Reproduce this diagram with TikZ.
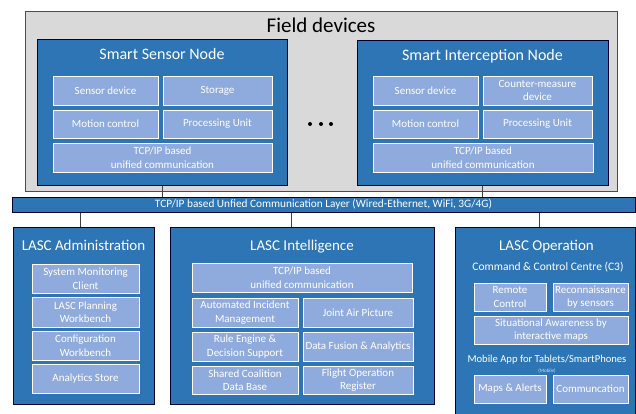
\documentclass[tikz,border=0pt]{standalone}
\usepackage{fontspec}
\setmainfont{Carlito}

\definecolor{fieldgray}{HTML}{D9D9D9}
\definecolor{nodeblue}{HTML}{2E75B6}
\definecolor{partblue}{HTML}{8FAADC}
\definecolor{wiregray}{HTML}{404040}

\tikzset{
  fieldbox/.style={draw=black!70, fill=fieldgray, line width=1pt, inner sep=0pt},
  bigbox/.style={draw=black!80!blue, fill=nodeblue, line width=1pt, inner sep=0pt},
  partbox/.style={draw=white, fill=partblue, line width=0.9pt, inner sep=0pt,
    text=white, align=center, font=\fontsize{11}{13.5}\selectfont},
  boxtitle/.style={text=white, font=\fontsize{16}{18}\selectfont},
  lasctitle/.style={text=white, font=\fontsize{15}{17}\selectfont},
  subtitle/.style={text=white, font=\fontsize{11.5}{13}\selectfont},
  wire/.style={draw=wiregray, line width=1pt},
}

\begin{document}
\begin{tikzpicture}[x=1pt,y=-1pt]
        \clip (0,0) rectangle (636,413);

        % field devices
        \node[fieldbox, minimum width=592, minimum height=180] (field) at (321,101) {};
        \node[font=\fontsize{21}{24}\selectfont] (fieldtitle) at (321,25) {Field devices};

        \node[bigbox, minimum width=250, minimum height=146] (ssn) at (162,112) {};
        \node[boxtitle] (ssntitle) at (162,54) {Smart Sensor Node};
        \node[partbox, minimum width=105, minimum height=29] (ssnsensor) at (105.5,90.5) {Sensor device};
        \node[partbox, minimum width=109, minimum height=29] (ssnstore) at (217.5,90.5) {Storage};
        \node[partbox, minimum width=105, minimum height=28] (ssnmotion) at (105.5,124) {Motion control};
        \node[partbox, minimum width=109, minimum height=28] (ssncpu) at (217.5,124) {Processing Unit};
        \node[partbox, minimum width=219, minimum height=29] (ssncomm) at (162.5,157.5) {TCP/IP based\\unified communication};

        \fill (310,124) circle[radius=2pt];
        \fill (321,124) circle[radius=2pt];
        \fill (331,124) circle[radius=2pt];

        \node[bigbox, minimum width=251, minimum height=145] (sin) at (482.5,112.5) {};
        \node[boxtitle] (sintitle) at (482.5,56) {Smart Interception Node};
        \node[partbox, minimum width=105, minimum height=29] (sinsensor) at (425.5,90.5) {Sensor device};
        \node[partbox, minimum width=109, minimum height=29] (sincounter) at (537.5,90.5) {Counter-measure\\device};
        \node[partbox, minimum width=105, minimum height=28] (sinmotion) at (425.5,124) {Motion control};
        \node[partbox, minimum width=109, minimum height=28] (sincpu) at (537.5,124) {Processing Unit};
        \node[partbox, minimum width=220, minimum height=29] (sincomm) at (483,157.5) {TCP/IP based\\unified communication};

        % communication layer
        \node[bigbox, minimum width=623, minimum height=15, text=white,
              font=\fontsize{11.3}{12}\selectfont] (layer) at (323.5,204.5)
              {TCP/IP based Unfied Communication Layer (Wired-Ethernet, WiFi, 3G/4G)};

        % administration
        \node[bigbox, minimum width=141, minimum height=177] (adm) at (83.5,315.5) {};
        \node[lasctitle] (admtitle) at (83.5,245) {LASC Administration};
        \node[partbox, minimum width=107, minimum height=29] (admmon) at (85.5,278.5) {System Monitoring\\Client};
        \node[partbox, minimum width=107, minimum height=30] (admplan) at (85.5,312) {LASC Planning\\Workbench};
        \node[partbox, minimum width=107, minimum height=29] (admconf) at (85.5,345.5) {Configuration\\Workbench};
        \node[partbox, minimum width=107, minimum height=29] (admstore) at (85.5,378.5) {Analytics Store};

        % intelligence
        \node[bigbox, minimum width=264, minimum height=177] (intel) at (302,315.5) {};
        \node[lasctitle] (inteltitle) at (302,247) {LASC Intelligence};
        \node[partbox, minimum width=220, minimum height=29] (intelcomm) at (302,277.5) {TCP/IP based\\unified communication};
        \node[partbox, minimum width=106, minimum height=29] (intelinc) at (245,312.5) {Automated Incident\\Management};
        \node[partbox, minimum width=110, minimum height=29] (intelair) at (358,312.5) {Joint Air Picture};
        \node[partbox, minimum width=106, minimum height=29] (intelrule) at (245,346.5) {Rule Engine \&\\Decision Support};
        \node[partbox, minimum width=110, minimum height=29] (intelfus) at (358,346.5) {Data Fusion \& Analytics};
        \node[partbox, minimum width=106, minimum height=28] (inteldb) at (245,380) {Shared Coalition\\Data Base};
        \node[partbox, minimum width=110, minimum height=28] (intelflight) at (358,380) {Flight Operation\\Register};

        % operation
        \node[bigbox, minimum width=180, minimum height=198] (ops) at (545,326) {};
        \node[lasctitle] (opstitle) at (546.5,247) {LASC Operation};
        \node[subtitle] (opsc3) at (548,267) {Command \& Control Centre (C3)};
        \node[partbox, minimum width=72, minimum height=28] (opsremote) at (510,297) {Remote\\Control};
        \node[partbox, minimum width=75, minimum height=28] (opsrecon) at (590.5,297) {Reconnaissance\\by sensors};
        \node[partbox, minimum width=154, minimum height=28] (opsaware) at (551,330) {Situational Awareness by\\interactive maps};
        \node[subtitle, font=\fontsize{10.6}{12}\selectfont] (opsapp) at (547,360) {Mobile App for Tablets/SmartPhones};
        \node[text=white!80!nodeblue, font=\fontsize{5}{6}\selectfont] (opsmobile) at (547,371) {(Mobile)};
        \node[partbox, minimum width=72, minimum height=28] (opsmaps) at (510,389) {Maps \& Alerts};
        \node[partbox, minimum width=75, minimum height=28] (opscomm) at (590.5,389) {Communcation};

        % links to the layer
        \draw[wire] (ssn.south) -- (ssn.south |- layer.north);
        \draw[wire] (sin.south) -- (sin.south |- layer.north);
        \draw[wire] ([xshift=-3.5pt]adm.north) -- ([xshift=-3.5pt]adm.north |- layer.south);
        \draw[wire] ([xshift=-11pt]intel.north) -- ([xshift=-11pt]intel.north |- layer.south);
        \draw[wire] ([xshift=-6pt]ops.north) -- ([xshift=-6pt]ops.north |- layer.south);
    \end{tikzpicture}
\end{document}
